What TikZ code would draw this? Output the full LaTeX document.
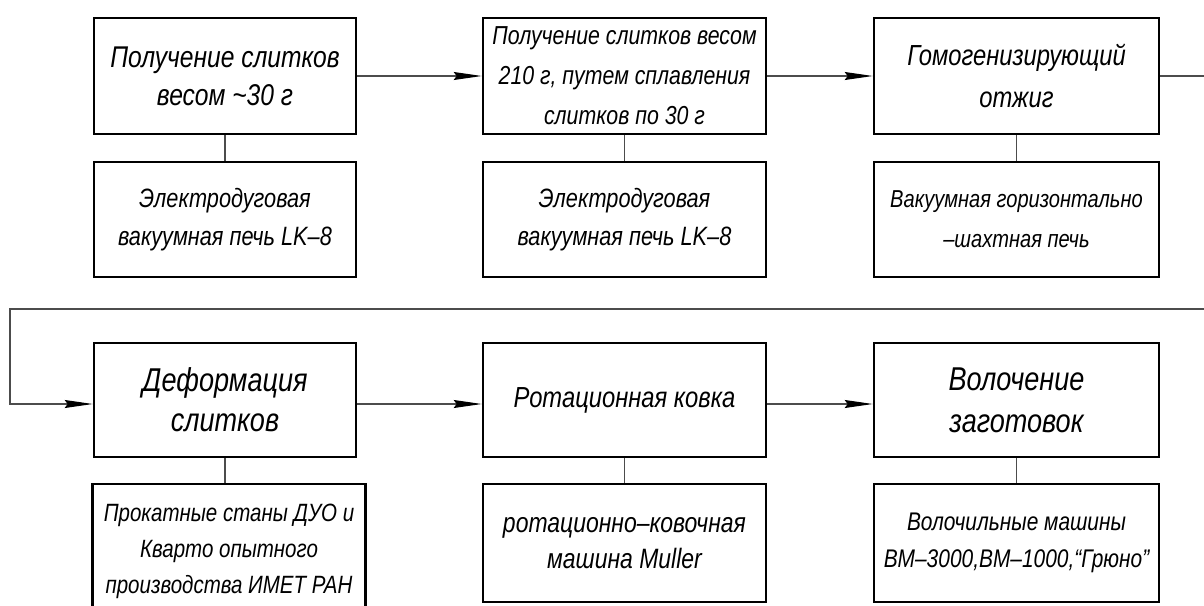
\documentclass[tikz,border=0pt]{standalone}
\usepackage{fontspec}
\setmainfont{Liberation Sans}[FakeStretch=0.82]
\usepackage{tikz}
\usetikzlibrary{arrows.meta}
\usetikzlibrary{positioning}

\begin{document}
\begin{tikzpicture}[node distance=399.5pt, auto,
    stage/.style={draw, rectangle, line width=2.6pt, align=center, inner sep=0pt, font=\itshape},
    flow/.style={draw=black!70, line width=1.1pt, -{Stealth[length=28pt,width=8pt,inset=3pt,color=black]}},
    link/.style={draw=black!70, line width=1.1pt}] % one unit = one pixel of the scheme

    \useasboundingbox (0,0) rectangle (1204pt,-605pt);
    \clip (0,0) rectangle (1204pt,-605pt);

    % Top row: process steps
    \node [stage, minimum width=262pt, minimum height=116pt, font=\itshape\fontsize{30}{38}\selectfont] (melt) at (225pt,-76pt) {Получение слитков\\весом \textasciitilde30 г};
    \node [right of=melt, stage, minimum width=283pt, minimum height=116pt, font=\itshape\fontsize{26}{40}\selectfont] (fuse) {Получение слитков весом\\210 г, путем сплавления\\слитков по 30 г};
    \node [right of=fuse, node distance=392pt, stage, minimum width=285pt, minimum height=116pt, font=\itshape\fontsize{29}{42}\selectfont] (anneal) {Гомогенизирующий\\отжиг};

    % Top row: equipment
    \node [below of=melt, node distance=143.5pt, stage, minimum width=262pt, minimum height=115pt, font=\itshape\fontsize{26.5}{38}\selectfont] (furnA) {Электродуговая\\вакуумная печь LK–8};
    \node [below of=fuse, node distance=143.5pt, stage, minimum width=283pt, minimum height=115pt, font=\itshape\fontsize{26.5}{38}\selectfont] (furnB) {Электродуговая\\вакуумная печь LK–8};
    \node [below of=anneal, node distance=143.5pt, stage, minimum width=285pt, minimum height=115pt, font=\itshape\fontsize{24.5}{40}\selectfont] (furnC) {Вакуумная горизонтально\\–шахтная печь};

    % Bottom row: process steps
    \node [below of=melt, node distance=324pt, stage, minimum width=262pt, minimum height=114pt, font=\itshape\fontsize{33}{40}\selectfont] (deform) {Деформация\\слитков};
    \node [right of=deform, stage, minimum width=283pt, minimum height=114pt, font=\itshape\fontsize{29}{36}\selectfont] (forge) {Ротационная ковка};
    \node [right of=forge, node distance=392pt, stage, minimum width=285pt, minimum height=114pt, font=\itshape\fontsize{33}{42}\selectfont] (draw) {Волочение\\заготовок};

    % Bottom row: equipment
    \node [below of=deform, node distance=151pt, xshift=4pt, stage, minimum width=273pt, minimum height=134pt, font=\itshape\fontsize{25}{36}\selectfont] (mill) {Прокатные станы ДУО и\\Кварто опытного\\производства ИМЕТ РАН};
    \node [below of=forge, node distance=143pt, stage, minimum width=283pt, minimum height=118pt, font=\itshape\fontsize{28}{36}\selectfont] (rotary) {ротационно–ковочная\\машина Muller};
    \node [below of=draw, node distance=143pt, stage, minimum width=285pt, minimum height=118pt, font=\itshape\fontsize{25.5}{37}\selectfont] (bench) {Волочильные машины\\ВМ–3000,ВМ–1000,“Грюно”};

    % Turning points of the return line
    \coordinate (turnR) at (1215pt,-309pt);
    \coordinate (turnL) at (10pt,-309pt);

    % Connections (Arrows)
    \draw [flow] (melt) -- (fuse);
    \draw [flow] (fuse) -- (anneal);
    \draw [flow] (anneal.east) -| (turnR) -- (turnL) |- ([yshift=-4pt]deform.west);
    \draw [flow] ([yshift=-4pt]deform.east) -- ([yshift=-4pt]forge.west);
    \draw [flow] ([yshift=-4pt]forge.east) -- ([yshift=-4pt]draw.west);

    % Step to equipment
    \draw [link] (melt) -- (furnA);
    \draw [link] (fuse) -- (furnB);
    \draw [link] (anneal) -- (furnC);
    \draw [link] (deform) -- (deform |- mill.north);
    \draw [link] (forge) -- (rotary);
    \draw [link] (draw) -- (bench);

\end{tikzpicture}
\end{document}
